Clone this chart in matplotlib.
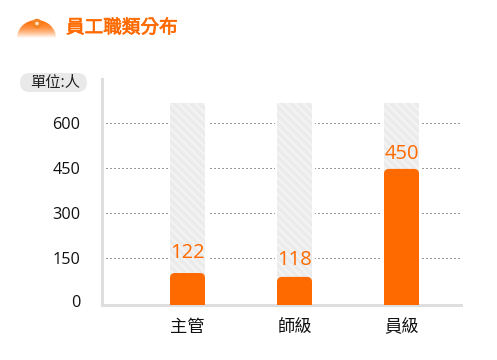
import numpy as np
import matplotlib
matplotlib.use("Agg")
import matplotlib.pyplot as plt
import matplotlib.patheffects as pe
from matplotlib.patches import FancyBboxPatch, Ellipse
from matplotlib.transforms import ScaledTranslation

plt.rcParams['font.family'] = ['Noto Sans CJK TC', 'DejaVu Sans']
plt.rcParams['hatch.linewidth'] = 1.6

W, H = 497, 360
ORANGE = "#ff6a00"

# Data
categories = ["主管", "師級", "員級"]
labels = [122, 118, 450]        # printed values
bar_heights = [100, 87, 447]    # drawn height, the picture does not follow the labels
track_height = 667
yticks = [0, 150, 300, 450, 600]

# gap in px between bar top and middle of its label
label_gaps = [20, 17, 15]


def px_axes(left, top, right, bottom):
    return [left / W, 1 - bottom / H, (right - left) / W, (bottom - top) / H]


fig = plt.figure(figsize=(W / 100, H / 100), dpi=100)

# pixel overlay for the header and the unit pill
bg = fig.add_axes([0, 0, 1, 1])
bg.set_xlim(0, W)
bg.set_ylim(H, 0)
bg.axis("off")

# header icon, half ellipse fading out downward
grad = np.linspace(0, 1, 64).reshape(-1, 1, 1) ** 1.8
c1 = np.array(matplotlib.colors.to_rgb("#ff7410"))
c2 = np.array([1.0, 1.0, 1.0])
img = c1 * (1 - grad) + c2 * grad
im = bg.imshow(img, extent=(17, 56, 38, 20), aspect="auto", zorder=2)
clip = Ellipse((36.5, 38), 39, 36, transform=bg.transData)
im.set_clip_path(clip)
bg.set_xlim(0, W)
bg.set_ylim(H, 0)
bg.add_patch(Ellipse((37, 23.5), 9.5, 9.5, fc="#f58220", ec="none", zorder=3))
bg.add_patch(Ellipse((37, 23.5), 3.6, 3.6, fc="#ffe3c8", ec="none", zorder=4))

title = bg.text(66, 28, "員工職類分布", color=ORANGE, fontsize=13.4,
                va="center", ha="left")
title.set_path_effects([pe.withStroke(linewidth=0.5, foreground=ORANGE)])

bg.add_patch(FancyBboxPatch((20, 73), 67, 19, boxstyle="round,pad=0,rounding_size=9.5",
                            fc="#e9e9e9", ec="none"))
bg.text(55, 82.5, "單位:人", color="#222222", fontsize=11, va="center", ha="center")

# chart area: x=0 at 187.5px, 107px per category, y=0 at 303px, 0.3px per unit
left, right, top, bottom = 102, 461, 79, 304.5
ax = fig.add_axes(px_axes(left, top, right, bottom))
ax.patch.set_alpha(0)
ax.set_xlim((left - 187.5) / 107, (right - 187.5) / 107)
ax.set_ylim((303 - bottom) / 0.3, (303 - top) / 0.3)

x = np.arange(len(categories))
bw = 35 / 107

for t in yticks[1:]:
    ax.plot(ax.get_xlim(), [t, t], color="#333333", lw=0.72, ls=(0, (1, 3)), zorder=1)

# white gap around the tracks, then the hatched tracks
ax.bar(x, track_height, width=bw + 5 / 107, color="white", zorder=2)
ax.bar(x, track_height, width=bw, color="#ebebeb", edgecolor="#f3f3f3", hatch="\\\\\\\\", lw=0, zorder=3)

# bars with rounded tops, box runs past the bottom and is clipped by the axes
ypx = 1 / 0.3
xpx = 1 / 107
for xi, h in zip(x, bar_heights):
    r = 5 * xpx
    box = FancyBboxPatch((xi - bw / 2, -60), bw, h + 60,
                         boxstyle=f"round,pad=0,rounding_size={r}",
                         mutation_aspect=ypx / xpx, fc=ORANGE, ec="none", zorder=4)
    ax.add_patch(box)
    box.set_clip_path(ax.patch)

for xi, h, lab, gap in zip(x, bar_heights, labels, label_gaps):
    ax.annotate(str(lab), (xi, h), xytext=(0, gap * 0.72), textcoords="offset points", ha="center",
                va="center", color=ORANGE, fontsize=14.5, family="Open Sans", zorder=5)

for s in ["top", "right"]:
    ax.spines[s].set_visible(False)
for s in ["left", "bottom"]:
    ax.spines[s].set_color("#dedede")
    ax.spines[s].set_linewidth(2.2)

ax.set_xticks(x, categories)
ax.set_yticks(yticks, [str(t) for t in yticks])
ax.tick_params(axis="both", length=0)
ax.tick_params(axis="x", pad=10, labelsize=12.4, labelcolor="#111111")
ax.tick_params(axis="y", pad=15.5, labelsize=11.7, labelcolor="#111111")
for t in ax.get_yticklabels():
    t.set_family("Open Sans")
# the 0 sits a little higher than its tick
lab0 = ax.get_yticklabels()[0]
lab0.set_transform(lab0.get_transform() + ScaledTranslation(0, 2 / 100, fig.dpi_scale_trans))

fig.savefig("out.png", dpi=100)
